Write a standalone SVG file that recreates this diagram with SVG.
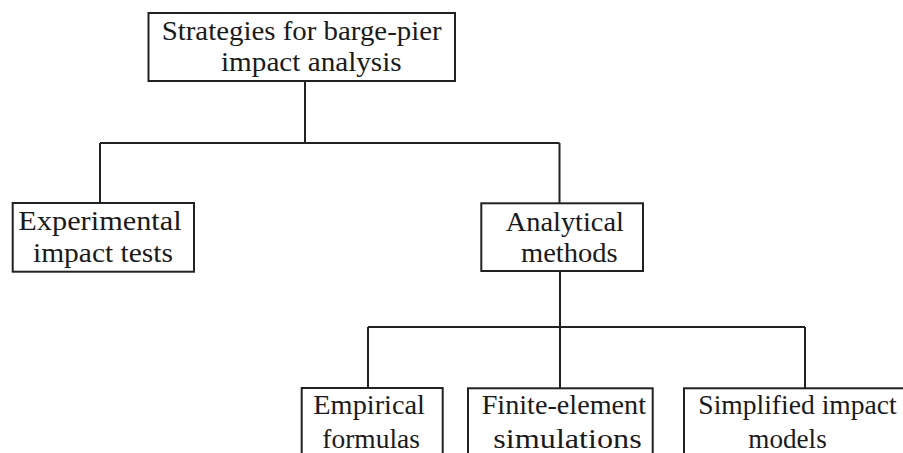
<svg xmlns="http://www.w3.org/2000/svg" width="903" height="453" viewBox="0 0 903 453">
<style>
.box{fill:#fff;stroke:#222;stroke-width:2}
.t{font-family:"Liberation Serif","DejaVu Serif",serif;font-size:27px;fill:#1a1a1a}
.c{fill:none;stroke:#222;stroke-width:2}
</style>
<rect width="903" height="453" fill="#fff"/>
<g id="connectors">
<path class="c" d="M305,81V143M100,143H559.5M100,143V203M559.5,143V203"/>
<path class="c" d="M560,271V388M368,327H805M368,327V388M805,327V388"/>
</g>
<g id="n-root">
<rect class="box" x="148.5" y="13" width="306.5" height="68"/>
<text class="t" x="161.7" y="39.5" textLength="280" lengthAdjust="spacingAndGlyphs">Strategies for barge-pier</text>
<text class="t" x="221" y="71" textLength="180.7" lengthAdjust="spacingAndGlyphs">impact analysis</text>
</g>
<g id="n-experimental">
<rect class="box" x="12.7" y="203" width="181.3" height="68.7"/>
<text class="t" x="18.3" y="230" textLength="163.4" lengthAdjust="spacingAndGlyphs">Experimental</text>
<text class="t" x="33" y="261.5" textLength="140" lengthAdjust="spacingAndGlyphs">impact tests</text>
</g>
<g id="n-analytical">
<rect class="box" x="481.3" y="203.3" width="161.7" height="67.7"/>
<text class="t" x="505.7" y="231" textLength="118.3" lengthAdjust="spacingAndGlyphs">Analytical</text>
<text class="t" x="521" y="261.7" textLength="96.7" lengthAdjust="spacingAndGlyphs">methods</text>
</g>
<g id="n-empirical">
<rect class="box" x="301.7" y="388" width="141" height="80"/>
<text class="t" x="313.3" y="413.5" textLength="111.7" lengthAdjust="spacingAndGlyphs">Empirical</text>
<text class="t" x="322.3" y="448.3" textLength="97.7" lengthAdjust="spacingAndGlyphs">formulas</text>
</g>
<g id="n-fem">
<rect class="box" x="468" y="388.3" width="184.7" height="80"/>
<text class="t" x="481.7" y="414" textLength="164.3" lengthAdjust="spacingAndGlyphs">Finite-element</text>
<text class="t" x="493.3" y="448.3" textLength="148.4" lengthAdjust="spacingAndGlyphs">simulations</text>
</g>
<g id="n-simplified">
<rect class="box" x="684" y="388.3" width="230" height="80"/>
<text class="t" x="698.3" y="413.5" textLength="198.4" lengthAdjust="spacingAndGlyphs">Simplified impact</text>
<text class="t" x="748.3" y="448.3" textLength="78.4" lengthAdjust="spacingAndGlyphs">models</text>
</g>
</svg>
